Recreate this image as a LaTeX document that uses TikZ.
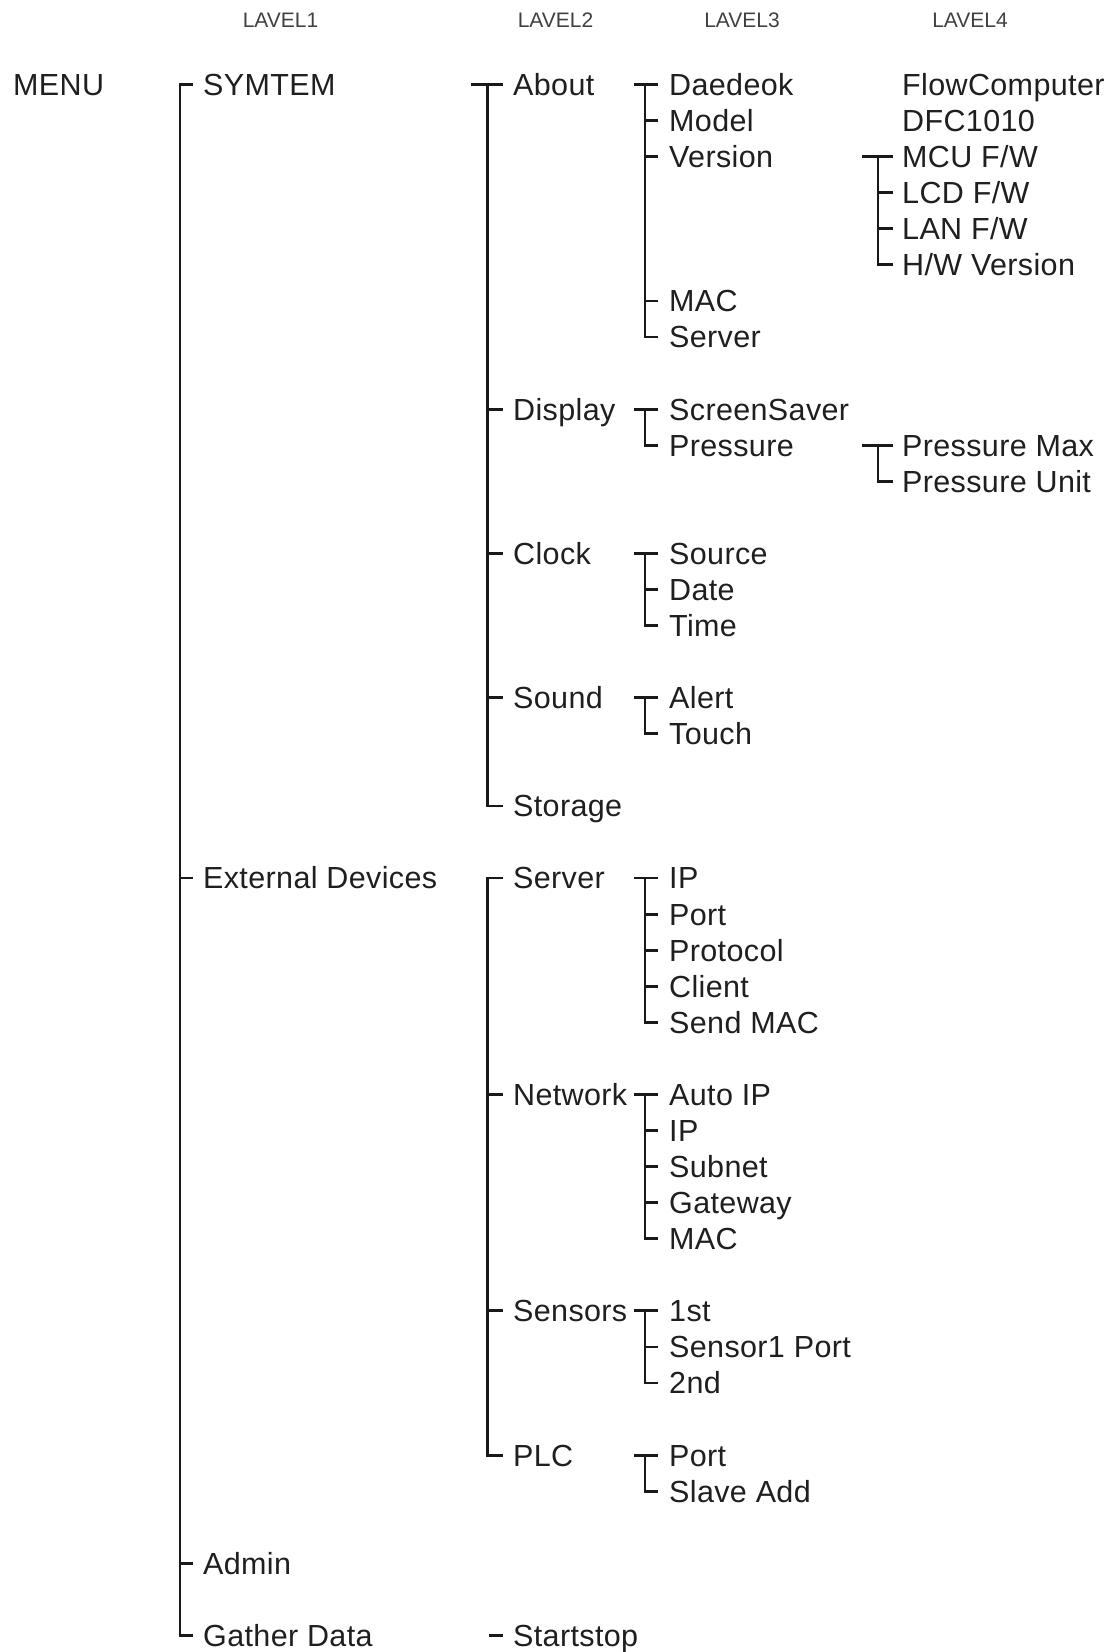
\documentclass[tikz,border=0pt]{standalone}
\usepackage{fontspec}
\setmainfont{Liberation Sans}
\newcommand\ry[1]{84.5+36.07*#1}
\begin{document}
\begin{tikzpicture}[x=1pt,y=-1pt,
  item/.style={anchor=west, inner sep=0pt, text height=21.8pt, text depth=0pt,
    font=\fontsize{30.5}{36}\selectfont\addfontfeature{LetterSpace=1.2}, text=black!88},
  lvl/.style={anchor=center, inner sep=0pt, text height=15pt, text depth=0pt,
    font=\fontsize{21}{25}\selectfont, text=black!75},
  br/.style={line width=2.8pt, draw=black!90}]
\useasboundingbox (0,0) rectangle (1116,1652);
% header labels
\node[lvl] (l1) at (280.5,19.5) {LAVEL1};
\node[lvl] (l2) at (555.5,19.5) {LAVEL2};
\node[lvl] (l3) at (742,19.5) {LAVEL3};
\node[lvl] (l4) at (970,19.5) {LAVEL4};
% root
\node[item] (menu) at (13,{\ry{0}}) {MENU};
% level 1
\node[item] (sys) at (203,{\ry{0}}) {SYMTEM};
\node[item] (ext) at (203,{\ry{22}}) {External Devices};
\node[item] (adm) at (203,{\ry{41}}) {Admin};
\node[item] (gat) at (203,{\ry{43}}) {Gather Data};
% level 2
\node[item] (about) at (513,{\ry{0}}) {About};
\node[item] (disp) at (513,{\ry{9}}) {Display};
\node[item] (clock) at (513,{\ry{13}}) {Clock};
\node[item] (sound) at (513,{\ry{17}}) {Sound};
\node[item] (stor) at (513,{\ry{20}}) {Storage};
\node[item] (srv) at (513,{\ry{22}}) {Server};
\node[item] (net) at (513,{\ry{28}}) {Network};
\node[item] (sens) at (513,{\ry{34}}) {Sensors};
\node[item] (plc) at (513,{\ry{38}}) {PLC};
\node[item] (start) at (513,{\ry{43}}) {Startstop};
% level 3
\node[item] (dae) at (669,{\ry{0}}) {Daedeok};
\node[item] (model) at (669,{\ry{1}}) {Model};
\node[item] (ver) at (669,{\ry{2}}) {Version};
\node[item] (mac) at (669,{\ry{6}}) {MAC};
\node[item] (aserv) at (669,{\ry{7}}) {Server};
\node[item] (scr) at (669,{\ry{9}}) {ScreenSaver};
\node[item] (pres) at (669,{\ry{10}}) {Pressure};
\node[item] (src) at (669,{\ry{13}}) {Source};
\node[item] (date) at (669,{\ry{14}}) {Date};
\node[item] (time) at (669,{\ry{15}}) {Time};
\node[item] (alert) at (669,{\ry{17}}) {Alert};
\node[item] (touch) at (669,{\ry{18}}) {Touch};
\node[item] (ip) at (669,{\ry{22}}) {IP};
\node[item] (port) at (669,{\ry{23}}) {Port};
\node[item] (proto) at (669,{\ry{24}}) {Protocol};
\node[item] (client) at (669,{\ry{25}}) {Client};
\node[item] (smac) at (669,{\ry{26}}) {Send MAC};
\node[item] (aip) at (669,{\ry{28}}) {Auto IP};
\node[item] (nip) at (669,{\ry{29}}) {IP};
\node[item] (subnet) at (669,{\ry{30}}) {Subnet};
\node[item] (gw) at (669,{\ry{31}}) {Gateway};
\node[item] (nmac) at (669,{\ry{32}}) {MAC};
\node[item] (first) at (669,{\ry{34}}) {1st};
\node[item] (s1p) at (669,{\ry{35}}) {Sensor1 Port};
\node[item] (second) at (669,{\ry{36}}) {2nd};
\node[item] (pport) at (669,{\ry{38}}) {Port};
\node[item] (slave) at (669,{\ry{39}}) {Slave Add};
% level 4
\node[item] (flow) at (902,{\ry{0}}) {FlowComputer};
\node[item] (dfc) at (902,{\ry{1}}) {DFC1010};
\node[item] (mcu) at (902,{\ry{2}}) {MCU F/W};
\node[item] (lcd) at (902,{\ry{3}}) {LCD F/W};
\node[item] (lan) at (902,{\ry{4}}) {LAN F/W};
\node[item] (hw) at (902,{\ry{5}}) {H/W Version};
\node[item] (pmax) at (902,{\ry{10}}) {Pressure Max};
\node[item] (punit) at (902,{\ry{11}}) {Pressure Unit};

% ---- level 1 bracket
\draw[br] ([xshift=-10]sys.west) -- ([xshift=-23]sys.west) |- ([xshift=-10]gat.west);
\foreach \n in {ext,adm} \draw[br] ([xshift=-23]\n.west) -- ([xshift=-10]\n.west);

% ---- level 2 brackets
\draw[br] ([xshift=-42]about.west) -- ([xshift=-10]about.west);
\draw[br] ([xshift=-25.5]about.west) |- ([xshift=-10]stor.west);
\foreach \n in {disp,clock,sound} \draw[br] ([xshift=-25.5]\n.west) -- ([xshift=-10]\n.west);
\draw[br] ([xshift=-10]srv.west) -- ([xshift=-25.5]srv.west) |- ([xshift=-10]plc.west);
\foreach \n in {net,sens} \draw[br] ([xshift=-25.5]\n.west) -- ([xshift=-10]\n.west);
\draw[br] ([xshift=-24]start.west) -- ([xshift=-10]start.west);

% ---- level 3 brackets
% About
\draw[br] ([xshift=-35]dae.west) -- ([xshift=-11]dae.west);
\draw[br] ([xshift=-24]dae.west) |- ([xshift=-11]aserv.west);
\foreach \n in {model,ver,mac} \draw[br] ([xshift=-24]\n.west) -- ([xshift=-11]\n.west);
% Display
\draw[br] ([xshift=-35]scr.west) -- ([xshift=-11]scr.west);
\draw[br] ([xshift=-24]scr.west) |- ([xshift=-11]pres.west);
% Clock
\draw[br] ([xshift=-35]src.west) -- ([xshift=-11]src.west);
\draw[br] ([xshift=-24]src.west) |- ([xshift=-11]time.west);
\draw[br] ([xshift=-24]date.west) -- ([xshift=-11]date.west);
% Sound
\draw[br] ([xshift=-35]alert.west) -- ([xshift=-11]alert.west);
\draw[br] ([xshift=-24]alert.west) |- ([xshift=-11]touch.west);
% Server
\draw[br] ([xshift=-35]ip.west) -- ([xshift=-11]ip.west);
\draw[br] ([xshift=-24]ip.west) |- ([xshift=-11]smac.west);
\foreach \n in {port,proto,client} \draw[br] ([xshift=-24]\n.west) -- ([xshift=-11]\n.west);
% Network
\draw[br] ([xshift=-35]aip.west) -- ([xshift=-11]aip.west);
\draw[br] ([xshift=-24]aip.west) |- ([xshift=-11]nmac.west);
\foreach \n in {nip,subnet,gw} \draw[br] ([xshift=-24]\n.west) -- ([xshift=-11]\n.west);
% Sensors
\draw[br] ([xshift=-35]first.west) -- ([xshift=-11]first.west);
\draw[br] ([xshift=-24]first.west) |- ([xshift=-11]second.west);
\draw[br] ([xshift=-24]s1p.west) -- ([xshift=-11]s1p.west);
% PLC
\draw[br] ([xshift=-35]pport.west) -- ([xshift=-11]pport.west);
\draw[br] ([xshift=-24]pport.west) |- ([xshift=-11]slave.west);

% ---- level 4 brackets
\draw[br] ([xshift=-40]mcu.west) -- ([xshift=-9]mcu.west);
\draw[br] ([xshift=-24]mcu.west) |- ([xshift=-9]hw.west);
\foreach \n in {lcd,lan} \draw[br] ([xshift=-24]\n.west) -- ([xshift=-9]\n.west);
\draw[br] ([xshift=-40]pmax.west) -- ([xshift=-9]pmax.west);
\draw[br] ([xshift=-24]pmax.west) |- ([xshift=-9]punit.west);
\end{tikzpicture}
\end{document}
